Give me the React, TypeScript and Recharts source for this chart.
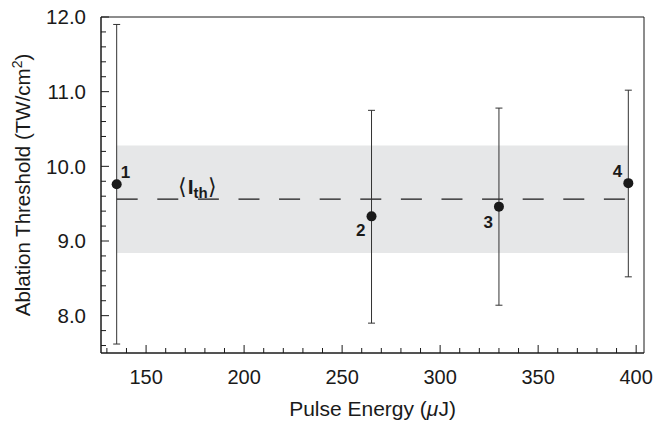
import React from "react";
import {
  ComposedChart, Scatter, ErrorBar, XAxis, YAxis,
  ReferenceArea, ReferenceLine,
} from "recharts";

// measured points (pulse energy in µJ, threshold in TW/cm²)
const energies = [135, 265, 330, 396];
const thresholds = [9.76, 9.33, 9.46, 9.775];
const errLow = [7.62, 7.9, 8.14, 8.52];
const errHigh = [11.9, 10.75, 10.78, 11.02];
const pointTags = ["1", "2", "3", "4"];

// average threshold and its spread
const meanThreshold = 9.56;
const bandLow = 8.84;
const bandHigh = 10.28;

const xDomain = [127, 404];
const yDomain = [7.5, 12];
const xTicks = [
  130, 140, 150, 160, 170, 180, 190, 200, 210, 220, 230, 240, 250, 260,
  270, 280, 290, 300, 310, 320, 330, 340, 350, 360, 370, 380, 390, 400,
];
const xLabels = [150, 200, 250, 300, 350, 400];
const yTicks = [
  7.6, 7.8, 8.0, 8.2, 8.4, 8.6, 8.8, 9.0, 9.2, 9.4, 9.6, 9.8,
  10.0, 10.2, 10.4, 10.6, 10.8, 11.0, 11.2, 11.4, 11.6, 11.8, 12.0,
];
const yLabels = [8, 9, 10, 11, 12];

const FONT = "'Liberation Sans', Arial, Helvetica, sans-serif";
const INK = "#1a1a1a";

// where each point number sits next to its dot
const tagPlacement: Record<string, { dx: number; dy: number; anchor: string }> = {
  "1": { dx: 4, dy: -6, anchor: "start" },
  "2": { dx: -6, dy: 20, anchor: "end" },
  "3": { dx: -6, dy: 21, anchor: "end" },
  "4": { dx: -6, dy: -6, anchor: "end" },
};

const data = energies.map((x, i) => ({
  x,
  y: thresholds[i],
  err: [thresholds[i] - errLow[i], errHigh[i] - thresholds[i]],
  tag: pointTags[i],
}));

const XTick = ({ x, y, payload }: any) => {
  const major = xLabels.includes(payload.value);
  return (
    <g>
      <line x1={x} x2={x} y1={y} y2={y - (major ? 8 : 5)} stroke={INK} />
      {major && (
        <text x={x} y={y + 31} textAnchor="middle" fontSize={20} fill={INK} fontFamily={FONT}>
          {payload.value}
        </text>
      )}
    </g>
  );
};

const YTick = ({ x, y, payload }: any) => {
  const v = payload.value;
  const major = yLabels.some((l) => Math.abs(l - v) < 1e-6);
  return (
    <g>
      <line x1={x} x2={x + (major ? 8 : 5)} y1={y} y2={y} stroke={INK} />
      {major && (
        <text x={x - 15} y={y} dy="0.36em" textAnchor="end" fontSize={20.5} fill={INK} fontFamily={FONT}>
          {v.toFixed(1)}
        </text>
      )}
    </g>
  );
};

const Dot = ({ cx, cy, payload }: any) => {
  const p = tagPlacement[payload.tag];
  return (
    <g>
      <circle cx={cx} cy={cy} r={5} fill={INK} />
      <text
        x={cx + p.dx} y={cy + p.dy} textAnchor={p.anchor}
        fontSize={17} fontWeight="bold" fill={INK} fontFamily={FONT}
      >
        {payload.tag}
      </text>
    </g>
  );
};

const MeanLabel = ({ viewBox }: any) => (
  <text x={viewBox.x + 61} y={viewBox.y - 5} fontFamily={FONT} fontWeight="bold" fill={INK} fontSize={21}>
    <tspan fontWeight="normal" fontSize={22}>⟨</tspan>
    <tspan dx={1}>I</tspan>
    <tspan fontSize={15} dy={4}>th</tspan>
    <tspan fontWeight="normal" fontSize={22} dy={-4}>⟩</tspan>
  </text>
);

const YTitle = ({ viewBox }: any) => {
  const cx = 23;
  const cy = viewBox.y + viewBox.height / 2;
  return (
    <text
      x={cx} y={cy} transform={`rotate(-90 ${cx} ${cy})`} textAnchor="middle"
      dy="0.36em" fontSize={20.5} fill={INK} fontFamily={FONT}
    >
      Ablation Threshold (TW/cm<tspan dy={-8} fontSize={14}>2</tspan><tspan dy={8}>)</tspan>
    </text>
  );
};

const XTitle = ({ viewBox }: any) => (
  <text
    x={viewBox.x + viewBox.width / 2} y={viewBox.y + 63} textAnchor="middle"
    fontSize={21} fill={INK} fontFamily={FONT}
  >
    Pulse Energy (<tspan fontStyle="italic">μ</tspan>J)
  </text>
);

export default function App() {
  return (
    <div style={{ position: "absolute", left: 0, top: 0, background: "#fff" }}>
      <ComposedChart
        width={655} height={422} data={data}
        margin={{ top: 17, right: 11, bottom: 0, left: 0 }}
      >
        <XAxis
          type="number" dataKey="x" domain={xDomain} ticks={xTicks} interval={0}
          height={69} tickSize={0} tickMargin={0} tickLine={false}
          tick={<XTick />} axisLine={{ stroke: INK }} label={<XTitle />}
        />
        <YAxis
          type="number" dataKey="y" domain={yDomain} ticks={yTicks} interval={0}
          width={101} tickSize={0} tickMargin={0} tickLine={false}
          tick={<YTick />} axisLine={{ stroke: INK }} label={<YTitle />}
        />
        <ReferenceArea
          x1={energies[0]} x2={energies[energies.length - 1]}
          y1={bandLow} y2={bandHigh} fill="#e6e7e8" fillOpacity={1} stroke="none"
        />
        <ReferenceLine
          segment={[
            { x: energies[0], y: meanThreshold },
            { x: energies[energies.length - 1], y: meanThreshold },
          ]}
          stroke={INK} strokeWidth={1.3} strokeDasharray="21 19.6"
          label={<MeanLabel />}
        />
        <ReferenceArea
          x1={xDomain[0]} x2={xDomain[1]} y1={yDomain[0]} y2={yDomain[1]}
          fill="none" stroke={INK} strokeWidth={1}
        />
        <Scatter dataKey="y" shape={<Dot />} isAnimationActive={false}>
          <ErrorBar dataKey="err" direction="y" width={3.5} stroke="#333" strokeWidth={1} />
        </Scatter>
      </ComposedChart>
    </div>
  );
}
